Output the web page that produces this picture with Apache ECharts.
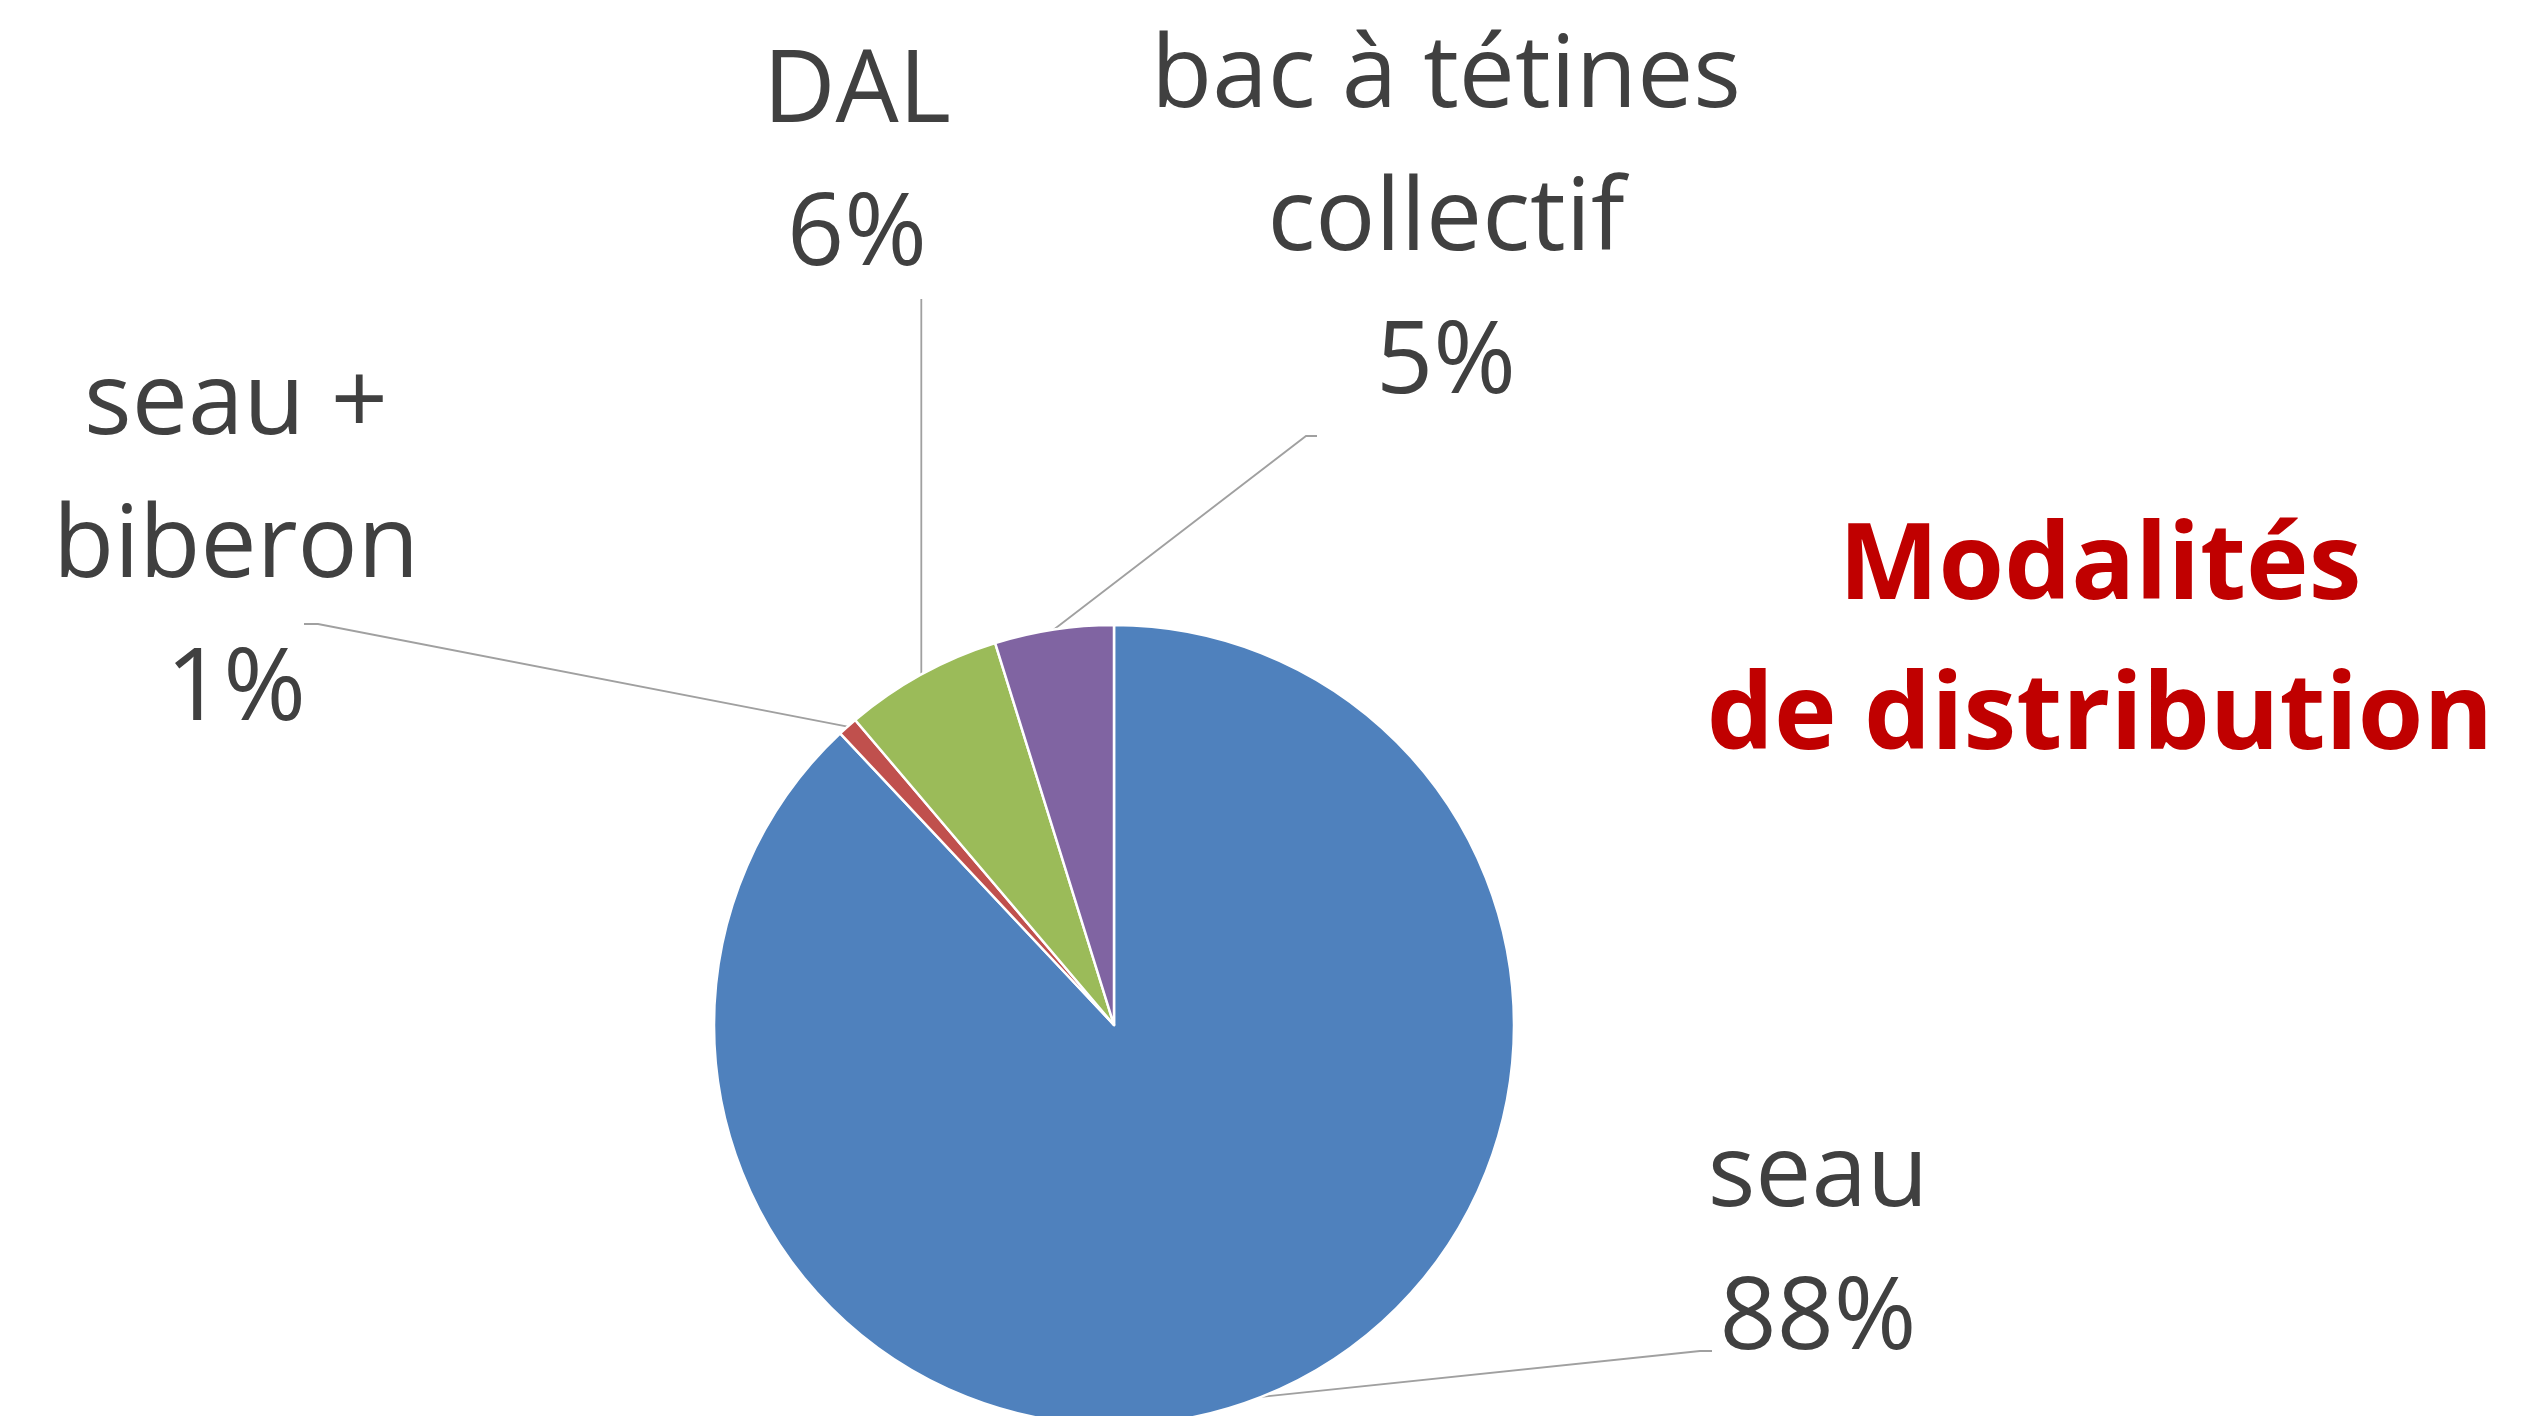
<!DOCTYPE html>
<html>
<head>
<meta charset="utf-8">
<script src="https://cdn.jsdelivr.net/npm/echarts@6/dist/echarts.min.js"></script>
<style>
  html, body { margin: 0; padding: 0; background: #fff; }
  #main { width: 2534px; height: 1416px; }
</style>
</head>
<body>
<div id="main"></div>
<script>
const categories = ['seau', 'seau +\nbiberon', 'DAL', 'bac à tétines\ncollectif']
const shares = [88.0, 0.8, 6.4, 4.8]
const colors = ['#4F81BD', '#C0504D', '#9BBB59', '#8064A2']

// where each label block sits (center), and where its leader line stops
const labelSpots = [[1818, 1249], [236, 549], [857, 165], [1446, 222]]
const lineEnds = [
  [[1700, 1351], [1712, 1351]],
  [[318, 624], [304, 624]],
  [null, [0, 299]],
  [[1306, 436], [1317, 436]]
]

const chart = echarts.init(document.getElementById('main'))

chart.setOption({
  backgroundColor: '#fff',
  graphic: [{
    type: 'text',
    x: 2100,
    y: 644,
    style: {
      text: 'Modalités\nde distribution',
      fill: '#C00000',
      font: 'bold 106px "Open Sans"',
      lineHeight: 150,
      align: 'center',
      verticalAlign: 'middle'
    }
  }],
  series: [{
    type: 'pie',
    center: [1114, 1025],
    radius: 400,
    startAngle: 90,
    clockwise: true,
    animation: false,
    avoidLabelOverlap: false,
    itemStyle: { borderColor: '#fff', borderWidth: 2.5 },
    label: {
      show: true,
      position: 'outside',
      color: '#404040',
      fontFamily: 'Open Sans',
      fontSize: 100,
      lineHeight: 143,
      align: 'center',
      formatter: p => p.name + '\n' + Math.round(p.percent) + '%'
    },
    labelLine: {
      show: true,
      lineStyle: { color: '#A0A0A0', width: 1.8 }
    },
    labelLayout: params => {
      const i = params.dataIndex
      const p0 = params.labelLinePoints ? params.labelLinePoints[0] : null
      const out = {
        x: labelSpots[i][0],
        y: labelSpots[i][1],
        align: 'center',
        verticalAlign: 'middle'
      }
      if (p0) {
        const ends = lineEnds[i]
        if (ends[0] === null) {
          out.labelLinePoints = [p0, [p0[0], ends[1][1]], [p0[0], ends[1][1]]]
        } else {
          out.labelLinePoints = [p0, ends[0], ends[1]]
        }
      }
      return out
    },
    data: categories.map((c, i) => ({
      name: c,
      value: shares[i],
      itemStyle: { color: colors[i] }
    }))
  }]
})
</script>
</body>
</html>
